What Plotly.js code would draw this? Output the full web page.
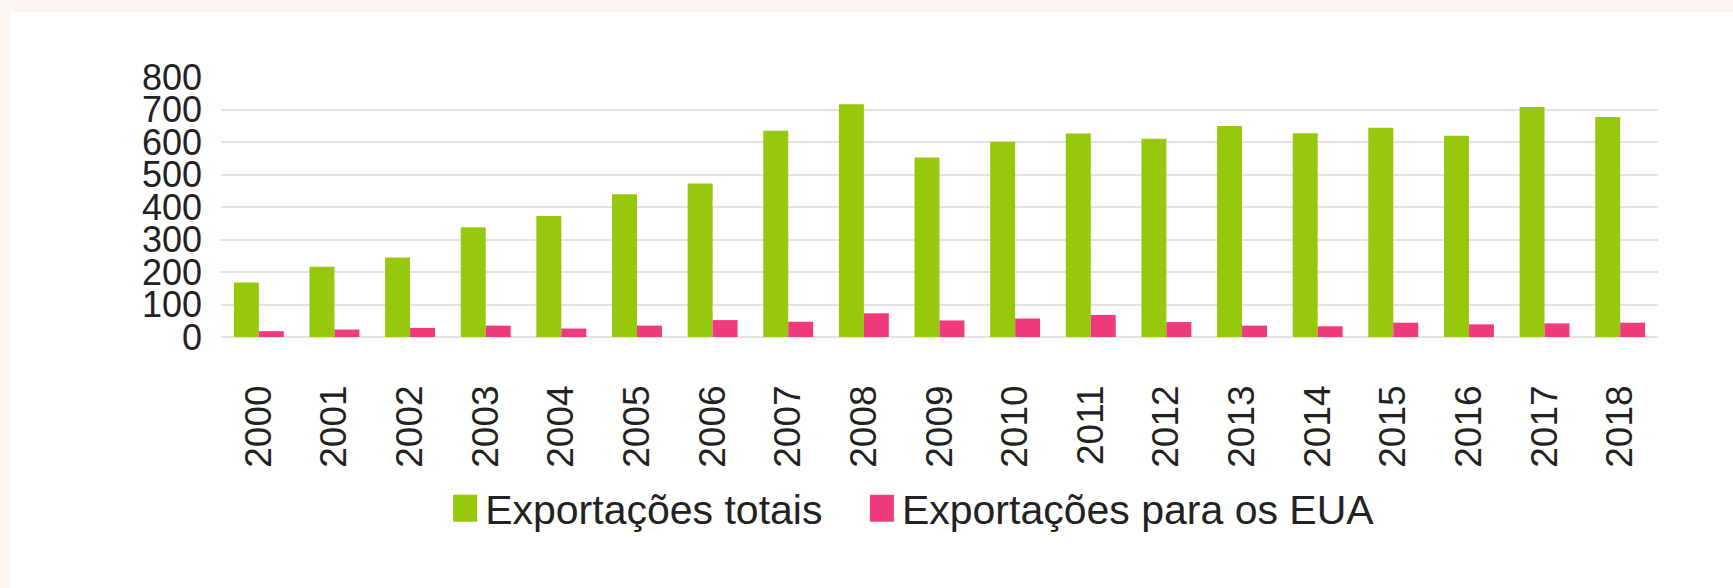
<!DOCTYPE html>
<html>
<head>
<meta charset="utf-8">
<script src="https://cdn.plot.ly/plotly-3.0.1.min.js"></script>
<style>
  html, body { margin: 0; padding: 0; background: #fff5f2; width: 1733px; height: 588px; overflow: hidden; }
  #chart { position: absolute; left: 10px; top: 12px; width: 1723px; height: 576px; background: #ffffff; }
</style>
</head>
<body>
<div id="chart"></div>
<script>
var years = ["2000","2001","2002","2003","2004","2005","2006","2007","2008","2009","2010","2011","2012","2013","2014","2015","2016","2017","2018"];
var exportacoesTotais = [168, 216, 245, 338, 372, 439, 472, 635, 716, 552, 601, 626, 610, 649, 627, 644, 619, 708, 677];
var exportacoesEUA = [18, 23, 28, 35, 26, 35, 52, 47, 73, 51, 57, 68, 46, 35, 33, 44, 39, 42, 44];
var yTicks = [0, 100, 200, 300, 400, 500, 600, 700, 800];
var seriesNames = ["Exportações totais", "Exportações para os EUA"];

var FONT = "Liberation Sans, Arial, Helvetica, sans-serif";
var legendFont = { family: FONT, size: 41, color: "#222222" };

var traces = [
  { type: "bar", name: seriesNames[0], x: years, y: exportacoesTotais, marker: { color: "#96c80c" }, legend: "legend" },
  { type: "bar", name: seriesNames[1], x: years, y: exportacoesEUA, marker: { color: "#ef3b7d" }, legend: "legend2" }
];

var layout = {
  width: 1723, height: 576,
  paper_bgcolor: "#ffffff", plot_bgcolor: "#ffffff",
  margin: { l: 211, r: 75, t: 65, b: 251, pad: 0 },
  barmode: "group", bargap: 0.34, bargroupgap: 0,
  font: { family: FONT, color: "#222222" },
  showlegend: true,
  legend: {
    orientation: "h", x: 0.156, xanchor: "left", y: -0.66, yanchor: "middle",
    font: legendFont, bgcolor: "rgba(0,0,0,0)"
  },
  legend2: {
    orientation: "h", x: 0.446, xanchor: "left", y: -0.66, yanchor: "middle",
    font: legendFont, bgcolor: "rgba(0,0,0,0)"
  },
  xaxis: {
    type: "category", tickangle: -90, showgrid: false, zeroline: false, showline: false,
    ticks: "", ticklabelstandoff: 40,
    tickfont: { family: FONT, size: 37, color: "#222222" }
  },
  yaxis: {
    range: [0, 800], tickvals: yTicks, ticktext: yTicks.map(String),
    showgrid: true, gridcolor: "#e3e3e3", gridwidth: 2,
    zeroline: true, zerolinecolor: "#e3e3e3", zerolinewidth: 2, showline: false,
    ticks: "", ticklabelstandoff: 18,
    tickfont: { family: FONT, size: 36, color: "#222222" }
  }
};

function bigSymbols() {
  var pts = document.querySelectorAll("#chart .legendpoints path");
  pts.forEach(function (p) { p.setAttribute("d", "M12,13.5H-12V-13.5H12Z"); });
}

Plotly.newPlot("chart", traces, layout, { displayModeBar: false, staticPlot: true }).then(function (gd) {
  bigSymbols();
  gd.on("plotly_afterplot", bigSymbols);
});
</script>
</body>
</html>
